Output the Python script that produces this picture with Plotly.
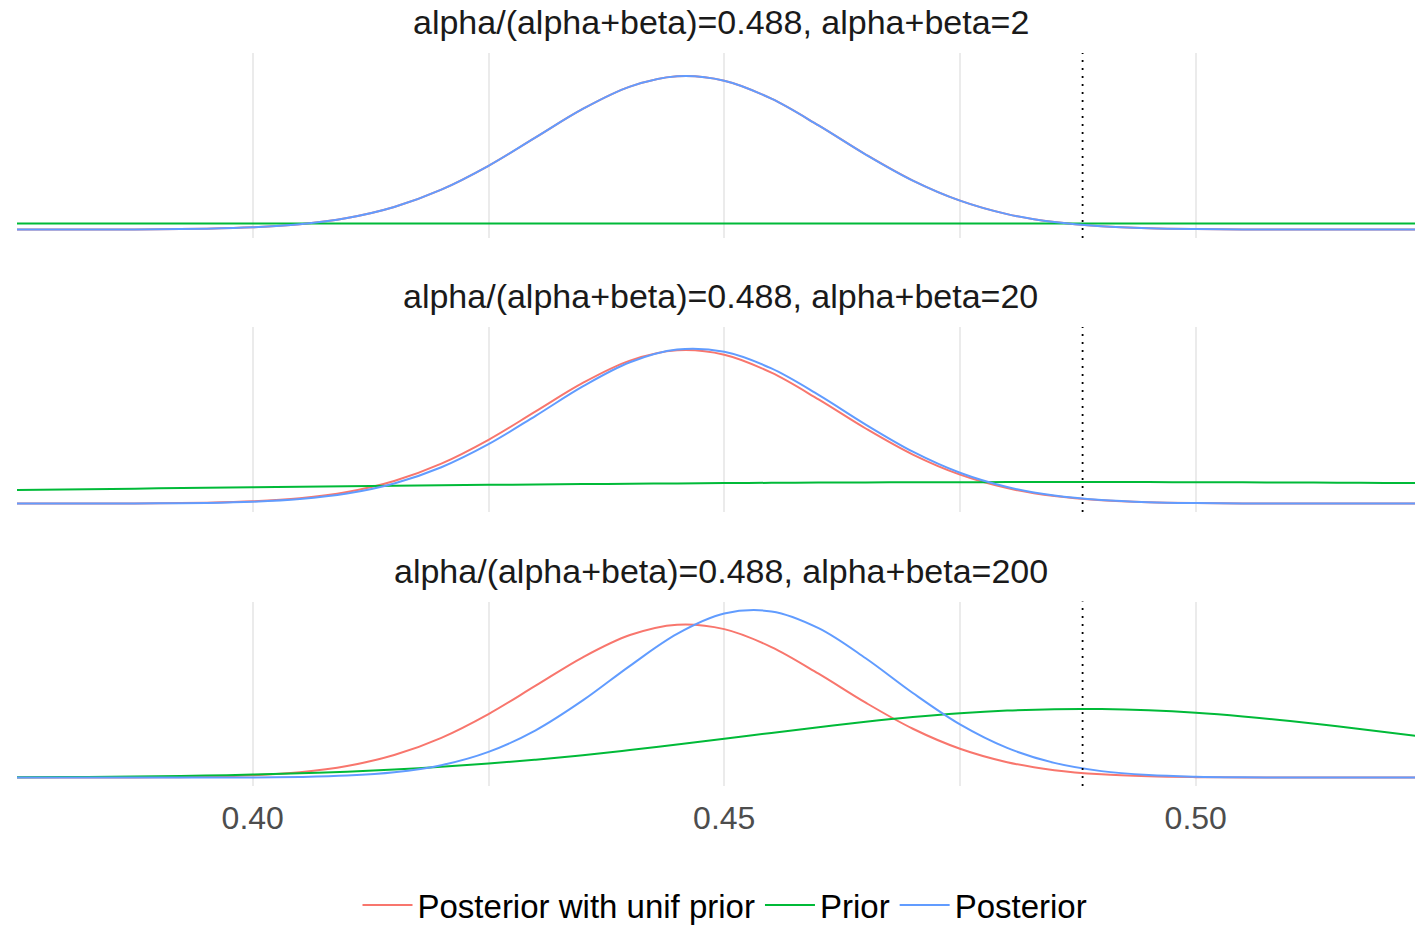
import plotly.graph_objects as go

x_vals = [0.375, 0.380, 0.385, 0.390, 0.395, 0.400, 0.405, 0.410, 0.415, 0.420,
          0.425, 0.430, 0.435, 0.440, 0.445, 0.450, 0.455, 0.460, 0.465, 0.470,
          0.475, 0.480, 0.485, 0.490, 0.495, 0.500, 0.505, 0.510, 0.515, 0.520,
          0.525]

post_unif = [0.0011, 0.0043, 0.0152, 0.0488, 0.1417, 0.3717, 0.8836, 1.902, 3.706, 6.537,
             10.438, 15.091, 19.752, 23.405, 25.107, 24.384, 21.439, 17.065, 12.298, 8.023,
             4.739, 2.534, 1.227, 0.538, 0.213, 0.0766, 0.0249, 0.0073, 0.0020, 0.0005,
             0.0001]

prior_2 = [1.012, 1.011, 1.011, 1.010, 1.010, 1.009, 1.009, 1.008, 1.008, 1.007,
           1.007, 1.006, 1.006, 1.005, 1.005, 1.004, 1.004, 1.003, 1.003, 1.002,
           1.002, 1.001, 1.001, 1.000, 1.000, 1.000, 0.999, 0.999, 0.998, 0.998,
           0.997]
post_2 = [0.0011, 0.0043, 0.0152, 0.0489, 0.1419, 0.3722, 0.8845, 1.903, 3.708, 6.540,
          10.442, 15.094, 19.754, 23.406, 25.107, 24.382, 21.435, 17.060, 12.293, 8.019,
          4.736, 2.532, 1.226, 0.537, 0.213, 0.0765, 0.0249, 0.0073, 0.0020, 0.0005,
          0.0001]

prior_20 = [2.215, 2.310, 2.403, 2.495, 2.586, 2.674, 2.759, 2.842, 2.921, 2.997,
            3.069, 3.136, 3.199, 3.257, 3.310, 3.358, 3.400, 3.436, 3.466, 3.490,
            3.508, 3.520, 3.525, 3.524, 3.516, 3.503, 3.483, 3.457, 3.425, 3.387,
            3.343]
post_20 = [0.0008, 0.0030, 0.0112, 0.0373, 0.1119, 0.3033, 0.7431, 1.646, 3.294, 5.955,
           9.733, 14.375, 19.188, 23.146, 25.231, 24.856, 22.129, 17.803, 12.945, 8.506,
           5.051, 2.710, 1.314, 0.576, 0.228, 0.0817, 0.0264, 0.0077, 0.0020, 0.0005,
           0.0001]

prior_200 = [0.0609, 0.0970, 0.1508, 0.2293, 0.3406, 0.4949, 0.7031, 0.9776, 1.3304, 1.7718,
             2.3104, 2.9494, 3.6879, 4.5161, 5.4183, 6.3691, 7.3365, 8.2809, 9.1614, 9.9354,
             10.562, 11.006, 11.244, 11.259, 11.055, 10.643, 10.043, 9.292, 8.430, 7.495,
             6.533]
post_200 = [0.0000, 0.0001, 0.0004, 0.0021, 0.0090, 0.0337, 0.1123, 0.3326, 0.8742, 2.040,
            4.223, 7.765, 12.670, 18.354, 23.599, 26.936, 27.292, 24.545, 19.596, 13.888,
            8.736, 4.878, 2.418, 1.064, 0.4155, 0.1440, 0.0443, 0.0121, 0.0029, 0.0006,
            0.0001]

panel_titles = ["alpha/(alpha+beta)=0.488, alpha+beta=2",
                "alpha/(alpha+beta)=0.488, alpha+beta=20",
                "alpha/(alpha+beta)=0.488, alpha+beta=200"]
series_names = ["Posterior with unif prior", "Prior", "Posterior"]
prior_mean = 0.488
tick_vals = [0.40, 0.45, 0.50]
tick_text = ["0.40", "0.45", "0.50"]
minor_vals = [0.375, 0.425, 0.475, 0.525]

panels = [
    (post_unif, prior_2, post_2),
    (post_unif, prior_20, post_20),
    (post_unif, prior_200, post_200),
]

# ---- style ----
colors = ["#F8766D", "#00BA38", "#619CFF"]
FONT = "Liberation Sans, Arial, Helvetica, sans-serif"
W, H = 1415, 926
ML, MR, MT, MB = 17, 0, 53, 140
plot_h = H - MT - MB
plot_w = W - ML - MR

def fy(px):  # pixel from top -> paper fraction
    return (H - MB - px) / plot_h

def fx(px):
    return (px - ML) / plot_w

domains = [[fy(238), 1.0], [fy(512), fy(327)], [0.0, fy(601.5)]]

fig = go.Figure()
for i, series in enumerate(panels):
    k = "" if i == 0 else str(i + 1)
    for j, yv in enumerate(series):
        fig.add_trace(go.Scatter(
            x=x_vals, y=yv, mode="lines", name=series_names[j],
            line=dict(color=colors[j], width=2, shape="spline"),
            xaxis="x" + k, yaxis="y" + k,
            showlegend=(i == 0), legendgroup=series_names[j],
            hoverinfo="x+y+name",
        ))

layout = dict(
    width=W, height=H,
    margin=dict(l=ML, r=MR, t=MT, b=MB, autoexpand=False),
    paper_bgcolor="white", plot_bgcolor="white",
    font=dict(family=FONT, color="#1A1A1A"),
    showlegend=True,
    legend=dict(orientation="h", x=fx(725), xanchor="center",
                yref="container", y=1 - 905 / H, yanchor="middle",
                font=dict(size=33, color="black", family=FONT),
                itemwidth=50, tracegroupgap=0, bgcolor="rgba(0,0,0,0)"),
)

annotations = []
shapes = []
for i in range(3):
    k = "" if i == 0 else str(i + 1)
    xa = dict(
        range=[0.375, 0.52325], anchor="y" + k,
        tickmode="array", tickvals=tick_vals, ticktext=tick_text,
        showticklabels=(i == 2), ticks="",
        tickfont=dict(size=32, color="#4D4D4D", family=FONT),
        ticklabelstandoff=10,
        showgrid=True, gridcolor="#EBEBEB", gridwidth=1.6,
        minor=dict(tickmode="array", tickvals=minor_vals, showgrid=True,
                   gridcolor="#EBEBEB", gridwidth=1.6, ticks=""),
        zeroline=False, showline=False, fixedrange=True, automargin=False,
    )
    if i > 0:
        xa["matches"] = "x"
    ya = dict(
        domain=domains[i], anchor="x" + k,
        range=[-1.377, 28.917],
        showticklabels=False, showgrid=False, zeroline=False, showline=False,
        ticks="", fixedrange=True,
    )
    layout["xaxis" + k] = xa
    layout["yaxis" + k] = ya
    annotations.append(dict(
        text=panel_titles[i], xref="paper", yref="y" + k + " domain",
        x=fx(720.5), y=1, xanchor="center", yanchor="middle", yshift=31,
        showarrow=False, font=dict(size=34, color="#1A1A1A", family=FONT),
    ))
    shapes.append(dict(
        type="line", xref="x" + k, yref="y" + k + " domain",
        x0=prior_mean, x1=prior_mean, y0=0, y1=1,
        line=dict(color="black", width=1.8, dash="2px,6px"),
        layer="above",
    ))

layout["annotations"] = annotations
layout["shapes"] = shapes
fig.update_layout(**layout)

fig.write_html("out.html", config={"displayModeBar": False},
               post_script="document.body.style.margin='0px';document.body.style.overflow='hidden';")
